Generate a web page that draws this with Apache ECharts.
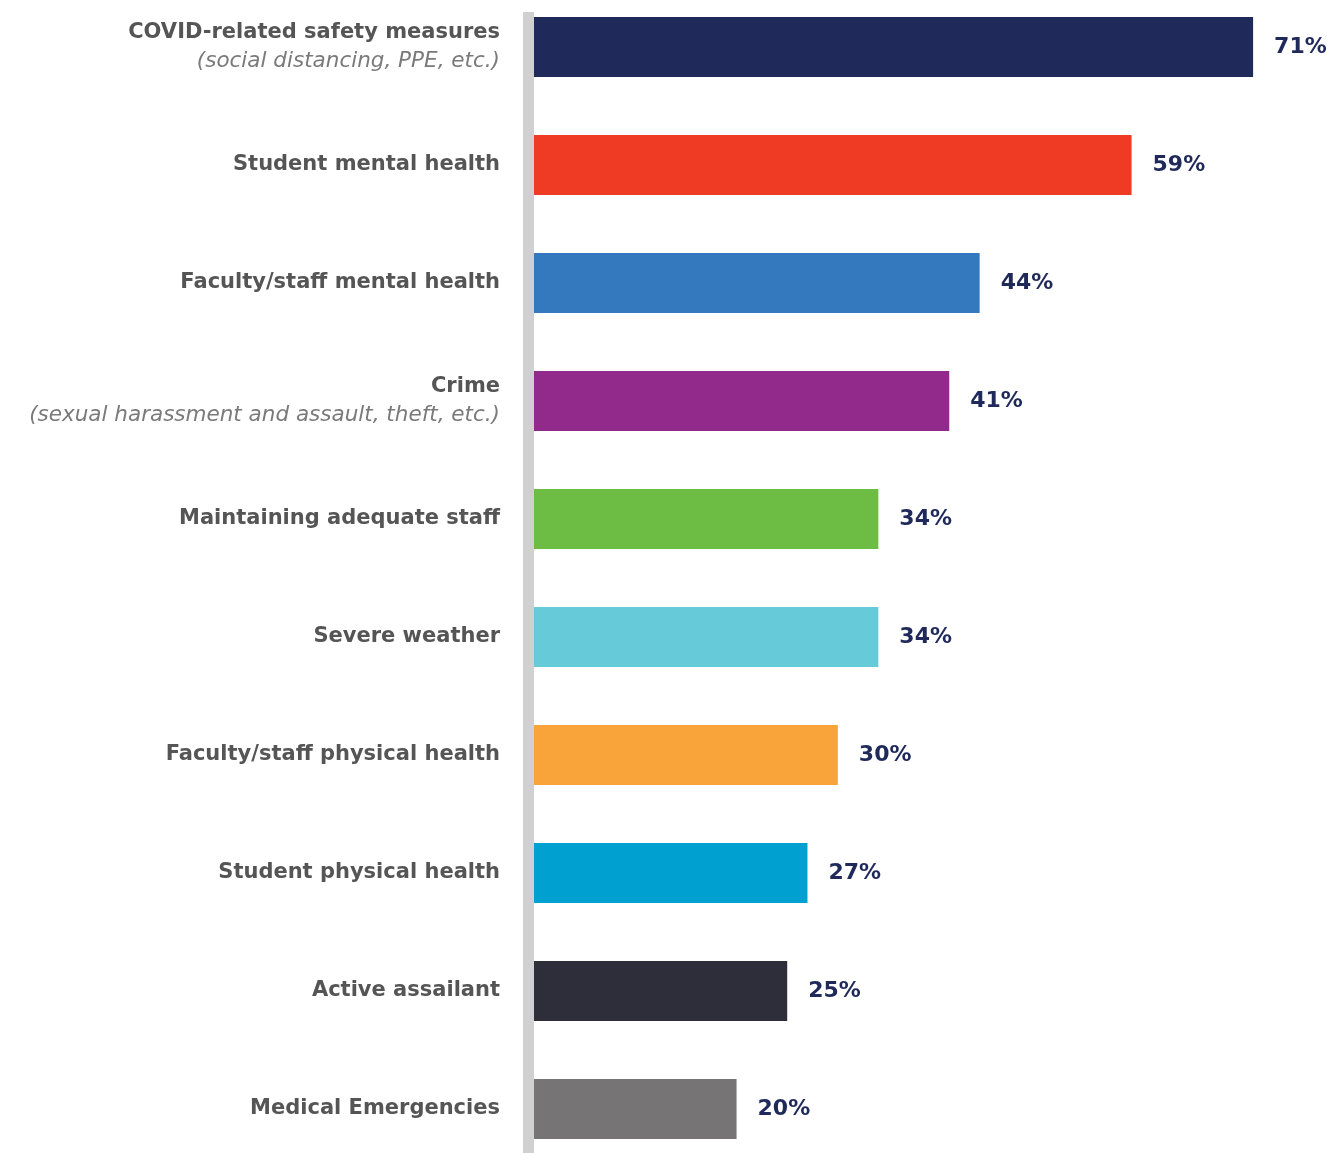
<!DOCTYPE html>
<html>
<head>
<meta charset="utf-8">
<script src="https://cdn.jsdelivr.net/npm/echarts@6/dist/echarts.min.js"></script>
<style>
  html, body { margin: 0; padding: 0; background: #ffffff; }
  #chart { width: 1327px; height: 1153px; }
</style>
</head>
<body>
<div id="chart"></div>
<script>
// Concern categories (top to bottom) with optional italic sub-notes
const categories = [
  'COVID-related safety measures',
  'Student mental health',
  'Faculty/staff mental health',
  'Crime',
  'Maintaining adequate staff',
  'Severe weather',
  'Faculty/staff physical health',
  'Student physical health',
  'Active assailant',
  'Medical Emergencies'
];
const subNotes = [
  '(social distancing, PPE, etc.)',
  '', '',
  '(sexual harassment and assault, theft, etc.)',
  '', '', '', '', '', ''
];
const values = [71, 59, 44, 41, 34, 34, 30, 27, 25, 20];
const barColors = [
  '#1f2a5b', '#ef3b24', '#3479bd', '#912a8b', '#6dbd45',
  '#66cad8', '#f9a43a', '#00a0d1', '#2e2e3a', '#767475'
];

const chart = echarts.init(document.getElementById('chart'));

chart.setOption({
  backgroundColor: '#ffffff',
  animation: false,
  // category centres sit on the grid's top and bottom edges (boundaryGap off)
  grid: { left: 534, right: 3, top: 47, height: 1062, containLabel: false },
  xAxis: {
    type: 'value', min: 0, max: 78,
    show: false
  },
  yAxis: {
    type: 'category',
    inverse: true,
    boundaryGap: false,
    data: categories,
    axisLine: { show: false },
    axisTick: { show: false },
    splitLine: { show: false },
    axisLabel: {
      margin: 34,
      align: 'right',
      formatter: function (val, idx) {
        const note = subNotes[idx];
        return note ? '{b|' + val + '}\n{i|' + note + '}' : '{b|' + val + '}';
      },
      rich: {
        b: {
          fontFamily: 'DejaVu Sans', fontWeight: 700, fontSize: 21,
          color: '#555555', lineHeight: 29, align: 'right'
        },
        i: {
          fontFamily: 'DejaVu Sans', fontStyle: 'italic', fontWeight: 200, fontSize: 21.5,
          color: '#7a7a7a', lineHeight: 29, align: 'right'
        }
      }
    }
  },
  graphic: [{
    type: 'rect',
    left: 523, top: 12,
    shape: { width: 11, height: 1141 },
    style: { fill: '#d0d0d2' },
    z: 10
  }],
  series: [{
    type: 'bar',
    barWidth: 60,
    clip: false,
    data: values.map((v, i) => ({ value: v, itemStyle: { color: barColors[i] } })),
    label: {
      show: true,
      position: 'right',
      distance: 21,
      formatter: '{c}%',
      fontFamily: 'DejaVu Sans', fontWeight: 700, fontSize: 22,
      color: '#1f2a5b'
    }
  }]
});
</script>
</body>
</html>
